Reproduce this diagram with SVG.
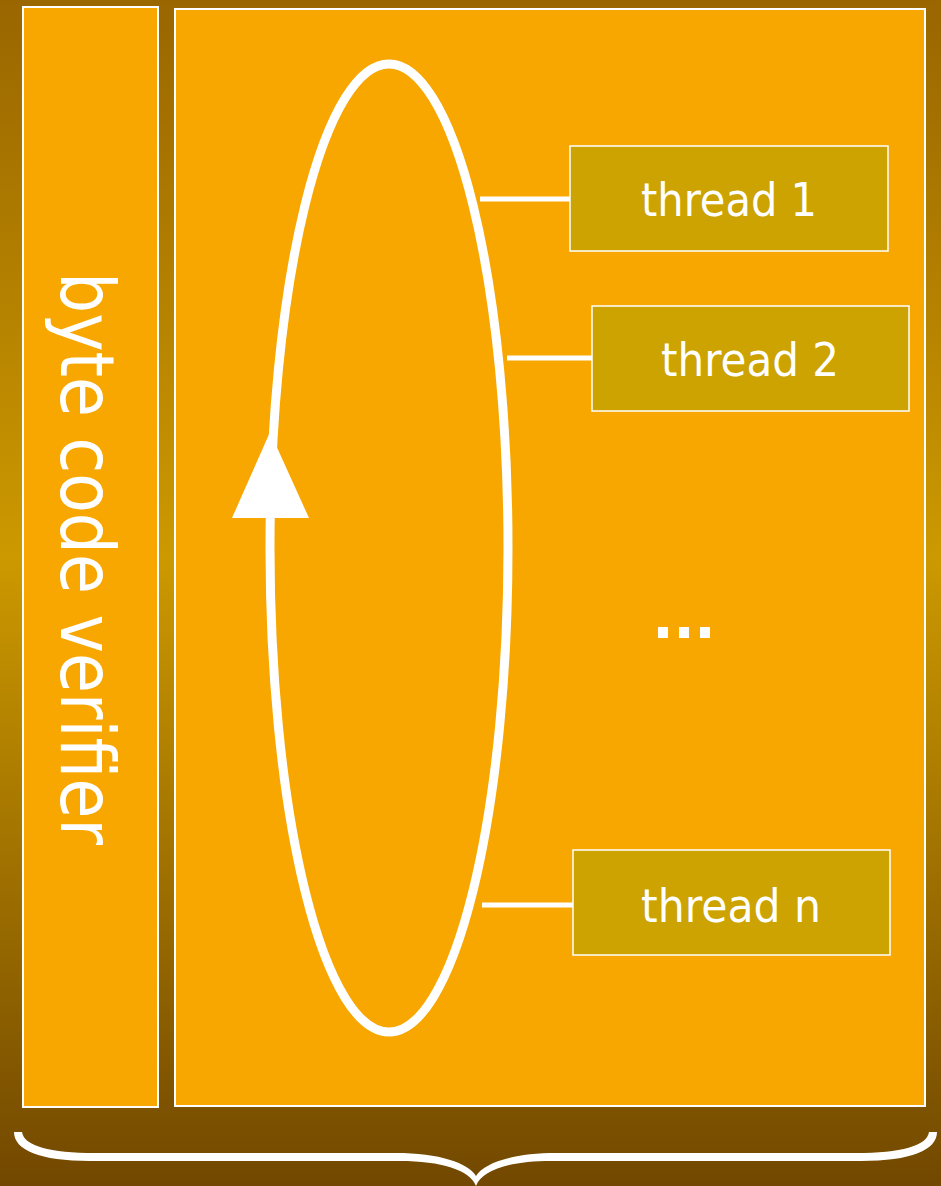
<svg xmlns="http://www.w3.org/2000/svg" width="941" height="1186" viewBox="0 0 941 1186">
  <defs>
    <linearGradient id="bg" x1="0" y1="0" x2="0" y2="1">
      <stop offset="0" stop-color="#996600"/>
      <stop offset="0.47" stop-color="#cc9900"/>
      <stop offset="1" stop-color="#724800"/>
    </linearGradient>
  </defs>
  <style>
    .panel { fill: #f8a600; stroke: #ffffff; stroke-width: 2; }
    .thread rect { fill: #cca300; stroke: #ffffff; stroke-width: 1.5; }
    .label { font-family: "DejaVu Sans", Verdana, sans-serif; fill: #ffffff; }
    .thread text { font-size: 46px; text-anchor: middle; }
    .link { stroke: #ffffff; stroke-width: 5; fill: none; }
  </style>

  <rect x="0" y="0" width="941" height="1186" fill="url(#bg)"/>

  <!-- side panel with the verifier -->
  <g id="verifier">
    <rect class="panel" x="23" y="7" width="135" height="1100"/>
    <text class="label" transform="translate(61,272) rotate(90)" font-size="74" textLength="573" lengthAdjust="spacingAndGlyphs">byte code verifier</text>
  </g>

  <!-- main area -->
  <g id="interpreter">
    <rect class="panel" x="175" y="9" width="750" height="1097"/>
  </g>

  <!-- execution loop -->
  <g id="loop">
    <ellipse cx="389" cy="548" rx="119" ry="484" fill="none" stroke="#ffffff" stroke-width="9"/>
    <polygon points="270,432 309,518 232,518" fill="#ffffff"/>
  </g>

  <g id="connectors">
    <line class="link" x1="480" y1="199" x2="570" y2="199"/>
    <line class="link" x1="507" y1="358" x2="592" y2="358"/>
    <line class="link" x1="482" y1="905" x2="573" y2="905"/>
  </g>

  <g id="thread1" class="thread">
    <rect x="570" y="146" width="318" height="105"/>
    <text class="label" x="729" y="216" textLength="176" lengthAdjust="spacingAndGlyphs">thread 1</text>
  </g>
  <g id="thread2" class="thread">
    <rect x="592" y="306" width="317" height="105"/>
    <text class="label" x="750" y="376" textLength="178" lengthAdjust="spacingAndGlyphs">thread 2</text>
  </g>
  <g id="thread-dots">
    <rect x="658" y="627" width="10" height="11" fill="#ffffff"/>
    <rect x="679" y="627" width="10" height="11" fill="#ffffff"/>
    <rect x="700" y="627" width="10" height="11" fill="#ffffff"/>
  </g>
  <g id="threadn" class="thread">
    <rect x="573" y="850" width="317" height="105"/>
    <text class="label" x="731" y="922" textLength="180" lengthAdjust="spacingAndGlyphs">thread n</text>
  </g>

  <!-- grouping brace under both panels -->
  <g id="brace">
    <path fill="#ffffff" d="M14 1132 L22 1132 C24 1146 50 1153 95 1153 L395 1153 C440 1153 468 1163 476 1176 C484 1163 512 1153 557 1153 L856 1153 C901 1153 927 1146 929 1132 L937 1132 C937 1150 911 1161 861 1161 L551 1161 C510 1161 482 1170 476 1186 C470 1170 441 1161 400 1161 L90 1161 C40 1161 14 1150 14 1132 Z"/>
  </g>
</svg>
